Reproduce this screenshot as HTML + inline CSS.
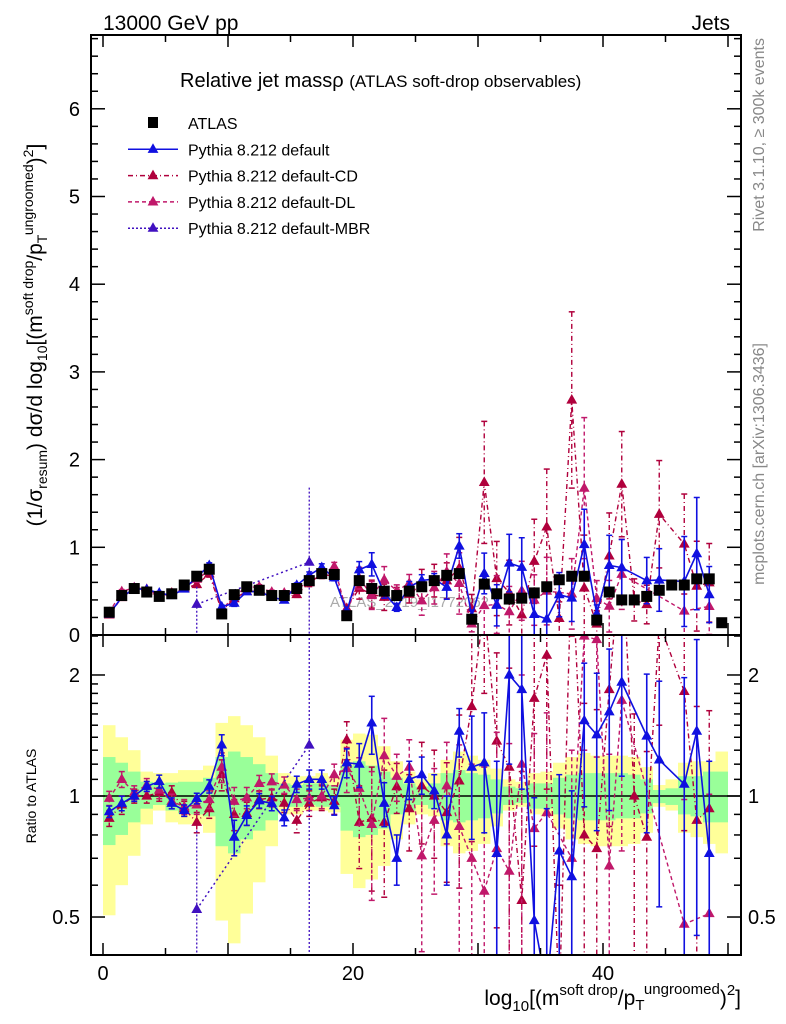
<!DOCTYPE html>
<html><head><meta charset="utf-8">
<style>
html,body{margin:0;padding:0;background:#fff;width:786px;height:1024px;overflow:hidden;}
svg{display:block;font-family:"Liberation Sans",sans-serif;}
</style></head>
<body>
<svg id="chart" width="786" height="1024" viewBox="0 0 786 1024" xmlns="http://www.w3.org/2000/svg" overflow="hidden">
<defs>
<clipPath id="cm"><rect x="91" y="35" width="650" height="600"/></clipPath>
<clipPath id="cr"><rect x="91" y="635" width="650" height="320"/></clipPath>
</defs>
<text x="103" y="30" font-size="21">13000 GeV pp</text>
<text x="730" y="30" font-size="21" text-anchor="end">Jets</text>
<text transform="translate(764,38) rotate(-90)" font-size="16" fill="#888" text-anchor="end">Rivet 3.1.10, ≥ 300k events</text>
<text transform="translate(764,343) rotate(-90)" font-size="16" fill="#888" text-anchor="end">mcplots.cern.ch [arXiv:1306.3436]</text>
<text x="330" y="607" font-size="15" fill="#aaa">ATLAS_2019_I1772062</text>
<g id="band" clip-path="url(#cr)"></g>
<g id="marks"></g>
<g id="axes"></g>
<text x="180" y="87" font-size="20">Relative jet massρ <tspan font-size="17">(ATLAS soft-drop observables)</tspan></text>
<g id="legend"></g>
<text transform="translate(42,335) rotate(-90)" font-size="21" text-anchor="middle">(1/σ<tspan font-size="14" dy="5">resum</tspan><tspan dy="-5">) dσ/d log</tspan><tspan font-size="14" dy="5">10</tspan><tspan dy="-5">[(m</tspan><tspan font-size="14" dy="-9">soft drop</tspan><tspan dy="9">/p</tspan><tspan font-size="14" dy="5">T</tspan><tspan font-size="14" dy="-14">ungroomed</tspan><tspan dy="9">)</tspan><tspan font-size="14" dy="-9">2</tspan><tspan dy="9">]</tspan></text>
<text transform="translate(36,796) rotate(-90)" font-size="14" text-anchor="middle">Ratio to ATLAS</text>
<text x="741" y="1005" font-size="21" text-anchor="end">log<tspan font-size="15" dy="6">10</tspan><tspan dy="-6">[(m</tspan><tspan font-size="15" dy="-10">soft drop</tspan><tspan dy="10">/p</tspan><tspan font-size="15" dy="5">T</tspan><tspan font-size="15" dy="-16">ungroomed</tspan><tspan dy="11">)</tspan><tspan font-size="15" dy="-10">2</tspan><tspan dy="10">]</tspan></text>
</svg>
<script>
const bins = Array.from({length:50},(_,i)=>i);
const atlas = [0.26,0.45,0.53,0.49,0.44,0.47,0.57,0.67,0.75,0.24,0.46,0.55,0.51,0.45,0.45,0.53,0.62,0.70,0.69,0.22,0.62,0.53,0.50,0.45,0.50,0.55,0.62,0.68,0.70,0.18,0.58,0.47,0.41,0.42,0.48,0.55,0.63,0.67,0.67,0.17,0.49,0.40,0.40,0.44,0.51,0.57,0.57,0.64,0.64,0.14];
const yellowUp = [1.50,1.40,1.30,1.15,1.14,1.14,1.16,1.16,1.19,1.52,1.58,1.50,1.40,1.26,1.14,1.12,1.12,1.14,1.12,1.38,1.43,1.42,1.33,1.22,1.15,1.10,1.14,1.23,1.29,1.26,1.23,1.17,1.10,1.085,1.14,1.15,1.21,1.25,1.28,1.26,1.26,1.26,1.25,1.18,1.065,1.10,1.21,1.22,1.22,1.29];
const yellowDn = [0.505,0.60,0.71,0.85,0.92,0.86,0.85,0.85,0.81,0.49,0.43,0.51,0.61,0.75,0.90,0.90,0.92,0.92,0.91,0.64,0.59,0.62,0.67,0.78,0.85,0.90,0.89,0.75,0.72,0.73,0.76,0.84,0.92,0.94,0.90,0.89,0.83,0.78,0.76,0.75,0.75,0.75,0.76,0.81,0.94,0.92,0.81,0.79,0.76,0.72];
const greenUp = [1.25,1.21,1.15,1.085,1.075,1.08,1.085,1.085,1.11,1.25,1.29,1.25,1.20,1.14,1.075,1.065,1.075,1.075,1.065,1.19,1.22,1.19,1.15,1.11,1.075,1.055,1.075,1.14,1.16,1.14,1.13,1.10,1.055,1.045,1.075,1.075,1.11,1.13,1.14,1.14,1.14,1.14,1.13,1.10,1.035,1.045,1.12,1.12,1.15,1.15];
const greenDn = [0.755,0.80,0.86,0.93,0.95,0.92,0.905,0.90,0.89,0.75,0.72,0.78,0.82,0.87,0.94,0.94,0.95,0.94,0.94,0.82,0.79,0.80,0.83,0.90,0.92,0.95,0.93,0.87,0.86,0.87,0.88,0.905,0.95,0.96,0.93,0.93,0.90,0.88,0.87,0.87,0.87,0.88,0.88,0.905,0.96,0.95,0.90,0.89,0.86,0.86];
const ratioDefault = [0.914,0.959,1.0,1.057,1.087,0.959,0.92,0.986,1.057,1.34,0.79,0.895,0.973,0.959,0.883,1.07,1.10,1.10,0.946,1.21,1.20,1.52,0.959,0.70,1.10,1.13,1.03,0.80,1.45,1.18,1.21,0.72,2.0,1.84,0.49,0.33,0.73,0.63,1.54,1.42,1.62,1.92,null,1.41,1.23,null,1.07,1.45,0.72,null];
const errDefault = [0.03,0.04,0.03,0.03,0.04,0.03,0.03,0.03,0.04,0.08,0.08,0.05,0.04,0.04,0.04,0.05,0.06,0.06,0.05,0.1,0.15,0.25,0.12,0.1,0.12,0.12,0.1,0.2,0.2,0.4,0.4,0.5,0.8,0.8,0.5,0.6,0.4,0.4,0.6,0.6,0.7,0.8,0,0.6,0.7,0,0.9,1.0,0.5,0];
const ratioCD = [0.88,0.95,1.0,1.0,1.02,1.02,0.93,0.86,0.93,1.13,0.90,0.905,0.98,0.99,0.96,0.87,0.96,0.99,0.97,1.38,0.86,0.88,0.86,1.055,0.93,1.06,1.0,0.91,1.09,1.67,3.0,1.37,1.18,0.55,1.75,2.24,0.3,4.0,0.80,0.74,1.84,4.3,1.0,0.79,2.7,null,1.82,0.87,0.93,null];
const ratioDL = [0.987,1.10,1.02,1.065,1.035,0.97,0.94,0.95,0.98,1.18,0.97,0.99,1.075,1.085,1.065,0.98,0.99,1.0,1.13,1.17,1.045,0.85,1.26,1.12,1.18,0.71,0.87,1.06,0.84,0.70,0.58,0.74,0.65,1.2,0.83,0.91,null,0.70,2.5,2.45,0.67,1.73,null,null,null,null,0.48,null,0.51,null];
const errCD = [0.04,0.05,0.04,0.04,0.05,0.04,0.04,0.05,0.05,0.1,0.08,0.06,0.05,0.05,0.05,0.06,0.07,0.07,0.07,0.15,0.2,0.3,0.3,0.15,0.2,0.3,0.3,0.3,0.5,0.9,1.2,0.9,0.9,0.6,1.0,1.2,0.3,1.5,0.9,0.9,1.0,1.5,0.6,0.5,1.2,0,1.0,0.8,0.7,0];
const errDL = [0.04,0.05,0.04,0.04,0.05,0.04,0.04,0.05,0.05,0.1,0.08,0.06,0.05,0.05,0.05,0.06,0.07,0.07,0.07,0.15,0.2,0.3,0.3,0.15,0.2,0.3,0.3,0.3,0.5,0.5,0.6,0.7,0.7,0.8,0.6,0.7,0,0.6,1.2,1.2,0.6,1.0,0,0,0,0,0.5,0,0.5,0];
const mbrBins = [7,16];
const mbrValues = [0.35,0.83];
const mbrErrLo = [0.35,0.83];
const mbrErrHi = [0.2,0.85];
const mainTicks = [0,1,2,3,4,5,6];
const xTickLabels = [0,20,40];
const ratioTickLabels = [0.5,1,2];

const NS="http://www.w3.org/2000/svg";
const X = v => 103 + 12.5*v;
const YM = v => 635 - 87.7*v;
const YR = r => 796 - 402*Math.log10(r);
const clampM = y => Math.max(30, Math.min(640, y));
const clampR = y => Math.max(630, Math.min(960, y));
function el(tag, attrs, parent){const e=document.createElementNS(NS,tag);for(const k in attrs)e.setAttribute(k,attrs[k]);parent.appendChild(e);return e;}
const band=document.getElementById('band'), marks=document.getElementById('marks'), axes=document.getElementById('axes'), legend=document.getElementById('legend');

bins.forEach(i=>{
  let r=el('rect',{x:X(i),y:YR(yellowUp[i]),width:12.5,height:YR(yellowDn[i])-YR(yellowUp[i]),fill:'#ffff99'},band);
  
  
  let g=el('rect',{x:X(i),y:YR(greenUp[i]),width:12.5,height:YR(greenDn[i])-YR(greenUp[i]),fill:'#99ff99'},band);
  
  
});
el('line',{x1:91,x2:741,y1:YR(1),y2:YR(1),stroke:'#000','stroke-width':1.5},band);

const gm=el('g',{'clip-path':'url(#cm)'},marks);
const gr=el('g',{'clip-path':'url(#cr)'},marks);

function tri(g,x,y,c,s){const p=el('polygon',{points:`${x},${y-s} ${x-s*0.9},${y+s*0.6} ${x+s*0.9},${y+s*0.6}`,fill:c},g);return p;}

function drawSeries(name,ratio,err,color,dash,width){
  [['main',gm],['ratio',gr]].forEach(([pn,g])=>{
    const pts=[];
    bins.forEach(i=>{
      const r=ratio[i]; if(r==null) return;
      const x=X(i+0.5);
      const val = pn==='main'? atlas[i]*r : r;
      const e = pn==='main'? atlas[i]*err[i] : err[i];
      const Yf = pn==='main'? YM : (v=>YR(Math.max(v,0.05)));
      const C = pn==='main'? clampM : clampR;
      const y=Yf(val);
      pts.push(x+','+y);
      if(e>0){
        const yt=C(Yf(val+e)), yb=C(Yf(Math.max(val-e,0.001)));
        const ln=el('line',{x1:x,x2:x,y1:yt,y2:yb,stroke:color,'stroke-width':width,'stroke-dasharray':dash},g);
        
        
        el('line',{x1:x-3,x2:x+3,y1:yt,y2:yt,stroke:color,'stroke-width':1.5},g);
        el('line',{x1:x-3,x2:x+3,y1:yb,y2:yb,stroke:color,'stroke-width':1.5},g);
      }
      const t=tri(g,x,y,color,6);
      
      
    });
    const pl=el('polyline',{points:pts.join(' '),fill:'none',stroke:color,'stroke-width':width,'stroke-dasharray':dash},g);
    
    
  });
}
drawSeries('default-cd',ratioCD,errCD,'#b0003c','5,3,1,3',1.4);
drawSeries('default-dl',ratioDL,errDL,'#c0186a','4,3',1.4);
drawSeries('default',ratioDefault,errDefault,'#1010e0','',1.6);

{
  const mp=[], rp=[];
  mbrBins.forEach((b,k)=>{
    const x=X(b+0.5), v=mbrValues[k], a=atlas[b];
    const y=YM(v);
    mp.push(x+','+y); rp.push(x+','+YR(v/a));
    const l1=el('line',{x1:x,x2:x,y1:clampM(YM(v+mbrErrHi[k])),y2:clampM(YM(v-mbrErrLo[k])),stroke:'#4010c0','stroke-width':1.3,'stroke-dasharray':'2,2'},gm);
    
    
    const l2=el('line',{x1:x,x2:x,y1:clampR(YR((v+mbrErrHi[k])/a)),y2:clampR(YR(Math.max((v-mbrErrLo[k])/a,0.05))),stroke:'#4010c0','stroke-width':1.3,'stroke-dasharray':'2,2'},gr);
    
    
    const t1=tri(gm,x,y,'#4010c0',6);
    
    
    const t2=tri(gr,x,YR(v/a),'#4010c0',6);
    
    
  });
  el('polyline',{points:mp.join(' '),fill:'none',stroke:'#4010c0','stroke-width':1.5,'stroke-dasharray':'2,3'},gm);
  el('polyline',{points:rp.join(' '),fill:'none',stroke:'#4010c0','stroke-width':1.5,'stroke-dasharray':'2,3'},gr);
}

bins.forEach(i=>{
  const x=X(i+0.5), y=YM(atlas[i]);
  const s=el('rect',{x:x-5.5,y:y-5.5,width:11,height:11,fill:'#000'},gm);
  
  
});

el('rect',{x:91,y:35,width:650,height:600,fill:'none',stroke:'#000','stroke-width':2},axes);
el('rect',{x:91,y:635,width:650,height:320,fill:'none',stroke:'#000','stroke-width':2},axes);
for(let v=0;v<=50;v+=5){
  const x=X(v), L=(v%10===0)?12:7;
  [[35,1],[635,-1],[635,1],[955,-1]].forEach(([y,d])=>el('line',{x1:x,x2:x,y1:y,y2:y+d*L,stroke:'#000','stroke-width':1.5},axes));
}
xTickLabels.forEach(v=>{
  const t=el('text',{x:X(v),y:980,'font-size':20,'text-anchor':'middle'},axes);
  t.textContent=v;
  
  
});
for(let k=0;k<=34;k++){
  const v=k*0.2, y=YM(v); if(y<36) continue;
  const L=(k%5===0)?14:7;
  el('line',{x1:91,x2:91+L,y1:y,y2:y,stroke:'#000','stroke-width':1.5},axes);
  el('line',{x1:741,x2:741-L,y1:y,y2:y,stroke:'#000','stroke-width':1.5},axes);
}
mainTicks.forEach(v=>{
  const t=el('text',{x:80,y:YM(v)+7,'font-size':20,'text-anchor':'end'},axes);
  t.textContent=v;
  
  
});
[0.5,0.6,0.7,0.8,0.9,1,1.1,1.2,1.3,1.4,1.5,1.6,1.7,1.8,1.9,2,2.5].forEach(r=>{
  const y=YR(r), L=ratioTickLabels.includes(r)?14:7;
  el('line',{x1:91,x2:91+L,y1:y,y2:y,stroke:'#000','stroke-width':1.5},axes);
  el('line',{x1:741,x2:741-L,y1:y,y2:y,stroke:'#000','stroke-width':1.5},axes);
});
ratioTickLabels.forEach(r=>{
  const t=el('text',{x:80,y:YR(r)+7,'font-size':20,'text-anchor':'end'},axes);
  t.textContent=r;
  
  
  const t2=el('text',{x:748,y:YR(r)+7,'font-size':20},axes);
  t2.textContent=r;
  
  
});

const leg=[['ATLAS','sq','#000',''],['Pythia 8.212 default','tri','#1010e0',''],['Pythia 8.212 default-CD','tri','#b0003c','5,3,1,3'],['Pythia 8.212 default-DL','tri','#c0186a','4,3'],['Pythia 8.212 default-MBR','tri','#4010c0','2,2']];
leg.forEach((d,k)=>{
  const y=123+26.3*k;
  const g=el('g',{},legend);
  
  
  if(d[1]==='sq'){el('rect',{x:148,y:y-6,width:10,height:11,fill:'#000'},g);}
  else{el('line',{x1:128,x2:178,y1:y,y2:y,stroke:d[2],'stroke-width':1.5,'stroke-dasharray':d[3]},g);tri(g,153,y,d[2],6);}
  const t=el('text',{x:188,y:y+6,'font-size':16},g);
  t.textContent=d[0];
});
</script>
</body></html>
